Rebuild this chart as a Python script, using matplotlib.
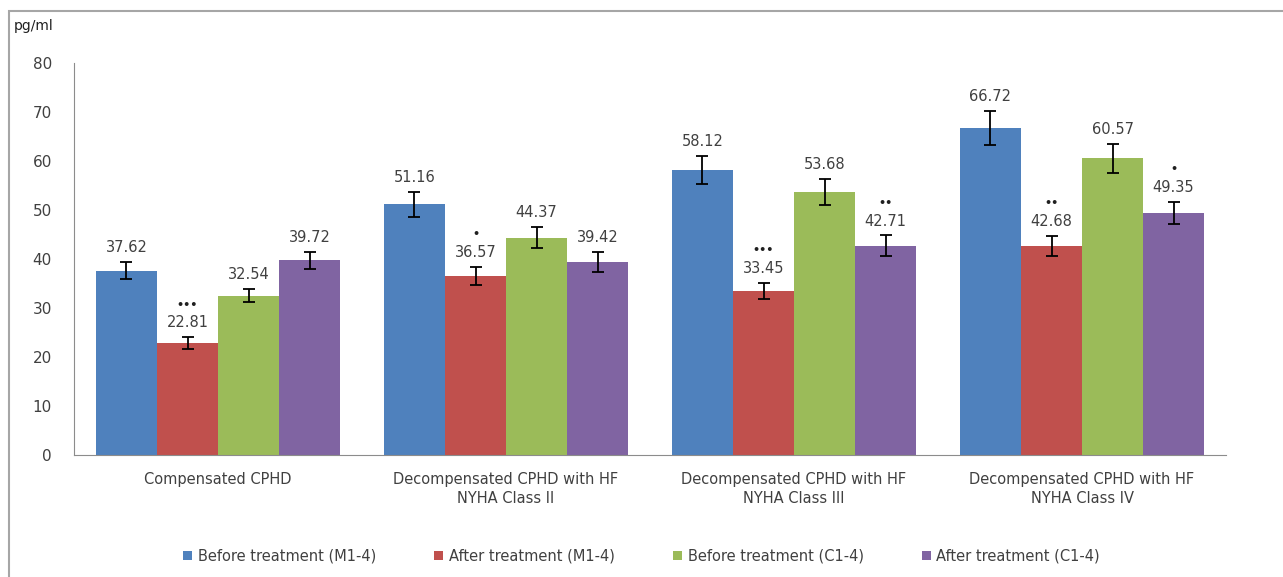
import numpy as np
import matplotlib.pyplot as plt
from matplotlib.patches import Rectangle

plt.rcParams['font.family'] = ['DejaVu Sans']

categories = ["Compensated CPHD",
              "Decompensated CPHD with HF\nNYHA Class II",
              "Decompensated CPHD with HF\nNYHA Class III",
              "Decompensated CPHD with HF\nNYHA Class IV"]
series = ["Before treatment (M1-4)", "After treatment (M1-4)",
          "Before treatment (C1-4)", "After treatment (C1-4)"]
before_m = [37.62, 51.16, 58.12, 66.72]
after_m = [22.81, 36.57, 33.45, 42.68]
before_c = [32.54, 44.37, 53.68, 60.57]
after_c = [39.72, 39.42, 42.71, 49.35]
err_before_m = [1.8, 2.5, 2.9, 3.4]
err_after_m = [1.2, 1.9, 1.6, 2.0]
err_before_c = [1.4, 2.2, 2.6, 3.0]
err_after_c = [1.8, 2.0, 2.1, 2.3]
marks_before_m = ["", "", "", ""]
marks_after_m = ["•••", "•", "•••", "••"]
marks_before_c = ["", "", "", ""]
marks_after_c = ["", "", "••", "•"]

values = [before_m, after_m, before_c, after_c]
errors = [err_before_m, err_after_m, err_before_c, err_after_c]
marks = [marks_before_m, marks_after_m, marks_before_c, marks_after_c]
colors = ["#4F81BD", "#C0504D", "#9BBB59", "#8064A2"]

fig = plt.figure(figsize=(12.83, 5.77), dpi=100)
ax = fig.add_axes([0.0577, 0.2114, 0.8979, 0.6794])

# outer chart border (left and top visible, rest cropped off)
fig.add_artist(Rectangle((9 / 1283, -0.1), 1.2, 1 - 11 / 577 + 0.1,
                         transform=fig.transFigure, fill=False,
                         edgecolor="#a6a6a6", lw=1.5))

x = np.arange(len(categories))
w = 0.212
for i in range(4):
    pos = x + (i - 1.5) * w
    ax.bar(pos, values[i], w, color=colors[i], label=series[i],
           yerr=errors[i], error_kw=dict(ecolor="black", elinewidth=1.3,
                                         capsize=4, capthick=1.3))
    for p, v, e, m in zip(pos, values[i], errors[i], marks[i]):
        ax.annotate(f"{v:.2f}", (p, v + e), xytext=(0, 5),
                    textcoords="offset points", ha="center", va="bottom",
                    fontsize=10.5, color="#404040")
        if m:
            ax.annotate(m, (p, v + e), xytext=(0, 20),
                        textcoords="offset points", ha="center", va="bottom",
                        fontsize=8, color="#202020", fontweight="bold")

ax.set_xlim(-0.5, len(categories) - 0.5)
ax.set_ylim(0, 80)
ax.set_yticks(range(0, 81, 10))
ax.set_xticks(x)
ax.tick_params(axis="both", length=0, labelsize=11, colors="#404040")
ax.tick_params(axis="y", pad=16)
ax.tick_params(axis="x", pad=12)
ax.set_xticklabels(categories, fontsize=10.5, color="#404040", linespacing=1.35)
for s in ["top", "right"]:
    ax.spines[s].set_visible(False)
for s in ["left", "bottom"]:
    ax.spines[s].set_color("#8c8c8c")

fig.text(14 / 1283, 1 - 26 / 577, "pg/ml", fontsize=10, color="#202020",
         va="center")

leg = fig.legend(loc="center", bbox_to_anchor=(0.5, 1 - 556 / 577), ncol=4,
                 frameon=False, fontsize=10.5, handlelength=0.6,
                 handleheight=0.6, columnspacing=4.0, handletextpad=0.4)
for t in leg.get_texts():
    t.set_color("#404040")

fig.savefig("out.png", dpi=100)
